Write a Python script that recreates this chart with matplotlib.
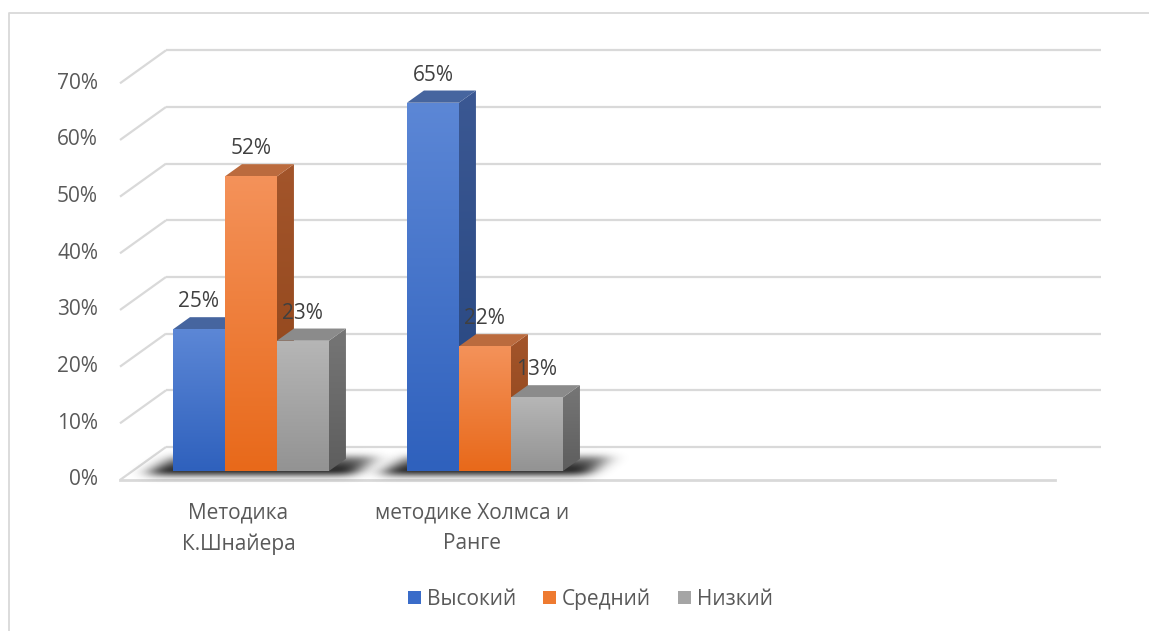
import numpy as np
import matplotlib
matplotlib.use("Agg")
import matplotlib.pyplot as plt
from matplotlib.patches import Polygon, Patch
from matplotlib.lines import Line2D
from matplotlib.colors import to_rgb

# data
categories = ["Методика\nК.Шнайера", "методике Холмса и\nРанге"]
series = ["Высокий", "Средний", "Низкий"]
values = [
    [25, 65],   # Высокий
    [52, 22],   # Средний
    [23, 13],   # Низкий
]
ticks = [0, 10, 20, 30, 40, 50, 60, 70]
tick_labels = [f"{t}%" for t in ticks]

# colours: front top, front bottom, side top, side bottom, top face
palette = [
    ("#5c87d6", "#2f61bd", "#3b5893", "#25457e", "#46659f"),
    ("#f4925a", "#e8691a", "#a3552b", "#8d4318", "#bb6b3e"),
    ("#b6b6b6", "#939393", "#767676", "#5e5e5e", "#8b8b8b"),
]
legend_colors = ["#3a6cc9", "#ee7a30", "#a5a5a5"]

plt.rcParams['font.family'] = ['Open Sans', 'DejaVu Sans']
FS = 15

# 3d-ish projection: depth shifts a point right and up
DDX = 46 / 234.0
DDY = 33 / 5.667
D_FRONT, D_BACK = 0.27, 0.64
BAR_W = 52 / 234.0
X_LEFT, X_RIGHT = -0.5064, 3.489


def proj(x, v, d):
    return x + d * DDX, v + d * DDY


def grad_poly(ax, verts, c_top, c_bot, z):
    poly = Polygon(verts, closed=True, facecolor="none", edgecolor="none", zorder=z)
    ax.add_patch(poly)
    xs = [p[0] for p in verts]
    ys = [p[1] for p in verts]
    t = np.linspace(0, 1, 128)[:, None, None]
    img = (1 - t) * np.array(to_rgb(c_bot)) + t * np.array(to_rgb(c_top))
    img = np.repeat(img, 2, axis=1)
    im = ax.imshow(img, extent=(min(xs), max(xs), min(ys), max(ys)),
                   origin="lower", aspect="auto", zorder=z, interpolation="bilinear")
    im.set_clip_path(poly)


def blur1d(a, sigma, axis):
    r = int(3 * sigma)
    k = np.exp(-0.5 * (np.arange(-r, r + 1) / sigma) ** 2)
    k /= k.sum()
    return np.apply_along_axis(lambda m: np.convolve(m, k, mode="same"), axis, a)


def floor_shadow(ax, x0, x1):
    # blurred footprint of a bar group on the floor
    ex = (x0 - 0.35, x1 + 0.45)
    ey = (-2.0, 10.0)
    nx = int((ex[1] - ex[0]) * 234)
    ny = int((ey[1] - ey[0]) * 5.667)
    X, Y = np.meshgrid(np.linspace(ex[0], ex[1], nx), np.linspace(ey[0], ey[1], ny))
    d = Y / DDY
    xb = X - d * DDX
    mask = ((xb > x0 - 0.09) & (xb < x1 + 0.12) & (d > 0.12) & (d < D_BACK + 0.08)).astype(float)
    mask = blur1d(blur1d(mask, 9, 1), 3.5, 0)
    # darker towards the front edge of the footprint
    fade = np.clip(1.15 - (d - 0.12) / 0.9, 0.35, 1.0)
    rgba = np.zeros((ny, nx, 4))
    rgba[..., :3] = 0.12
    rgba[..., 3] = np.clip(mask * fade * 1.05, 0, 0.92)
    ax.imshow(rgba, extent=(ex[0], ex[1], ey[0], ey[1]), origin="lower",
              aspect="auto", zorder=2, interpolation="bilinear")


fig = plt.figure(figsize=(11.49, 6.31), dpi=100)
ax = fig.add_axes([0, 0, 1, 1])
ax.set_autoscale_on(False)
ax.set_xlim(-1.0192, 3.8910)
ax.set_ylim(-26.65, 84.70)
ax.axis("off")

# outer chart frame
fig.add_artist(Line2D([9 / 1149, 9 / 1149, 1.2], [-0.2, 1 - 13 / 631, 1 - 13 / 631],
                      transform=fig.transFigure, color="#d9d9d9", lw=1.3))

# walls and floor gridlines
grid_c = "#d9d9d9"
for t, lab in zip(ticks, tick_labels):
    bx, by = proj(X_LEFT, t, 1)
    ax.plot([X_LEFT, bx], [t, by], color=grid_c, lw=1.6, zorder=1, solid_capstyle="butt")
    ax.plot([bx, X_RIGHT + DDX], [by, by], color=grid_c, lw=1.6, zorder=1, solid_capstyle="butt")
    ax.text(X_LEFT - 0.094, t, lab, ha="right", va="center", fontsize=FS, color="#595959")
ax.plot([X_LEFT, X_RIGHT], [0, 0], color=grid_c, lw=2.0, zorder=1)

# bars
n = len(series)
for ci in range(len(categories)):
    gx0 = ci - n / 2 * BAR_W
    floor_shadow(ax, gx0, gx0 + n * BAR_W)
    for si in range(n):
        v = values[si][ci]
        ft, fb, st, sb, tp = palette[si]
        xl = ci + (si - n / 2) * BAR_W
        xr = xl + BAR_W
        z = 3 + si * 0.1 + ci
        # side face
        side = [proj(xr, 0, D_FRONT), proj(xr, 0, D_BACK), proj(xr, v, D_BACK), proj(xr, v, D_FRONT)]
        grad_poly(ax, side, st, sb, z)
        # top face
        top = [proj(xl, v, D_FRONT), proj(xr, v, D_FRONT), proj(xr, v, D_BACK), proj(xl, v, D_BACK)]
        ax.add_patch(Polygon(top, closed=True, facecolor=tp, edgecolor="none", zorder=z + 0.01))
        # front face
        front = [proj(xl, 0, D_FRONT), proj(xr, 0, D_FRONT), proj(xr, v, D_FRONT), proj(xl, v, D_FRONT)]
        grad_poly(ax, front, ft, fb, z + 0.02)
        # value label
        lx, _ = proj((xl + xr) / 2, v, D_FRONT)
        _, ly = proj(xl, v, D_BACK)
        ax.text(lx, ly + 2.7, f"{v}%", ha="center", va="center", fontsize=FS,
                color="#404040", zorder=20)

# category labels
for ci, name in enumerate(categories):
    ax.text(ci, -8.56, name, ha="center", va="center", fontsize=FS,
            color="#595959", linespacing=1.6)

handles = [Patch(facecolor=c, edgecolor="none", label=s) for s, c in zip(series, legend_colors)]
fig.legend(handles=handles, loc="center", bbox_to_anchor=(0.514, 1 - 599 / 631), ncol=3,
           frameon=False, fontsize=FS, handlelength=0.6, handleheight=0.6,
           handletextpad=0.3, columnspacing=1.3, labelcolor="#595959")

fig.savefig("out.png", dpi=100)
